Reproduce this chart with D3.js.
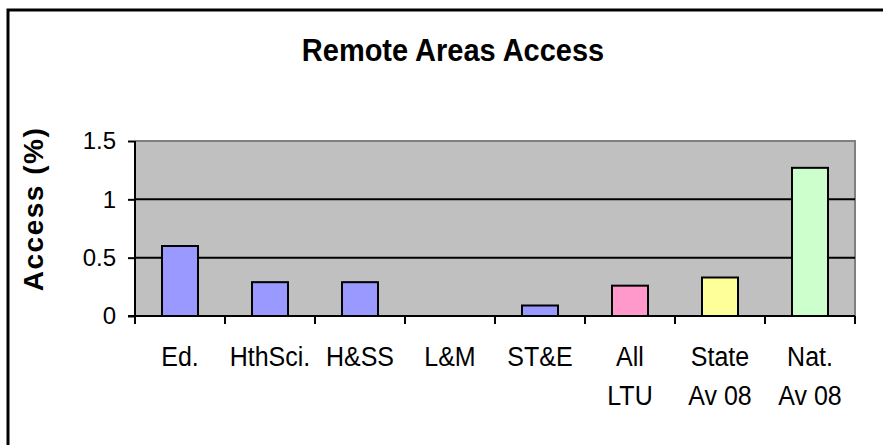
<!DOCTYPE html>
<html>
<head>
<meta charset="utf-8">
<script src="https://cdn.jsdelivr.net/npm/d3@7"></script>
<style>
  body { margin: 0; background: #fff; }
  text { font-family: "Liberation Sans", Arial, sans-serif; fill: #000; }
</style>
</head>
<body>
<svg width="883" height="445"></svg>
<script>
const categories = ['Ed.', 'HthSci.', 'H&SS', 'L&M', 'ST&E', 'All|LTU', 'State|Av 08', 'Nat.|Av 08'];
const values = [0.6, 0.29, 0.29, 0, 0.09, 0.26, 0.33, 1.27];
const barColors = ['#9999ff', '#9999ff', '#9999ff', '#9999ff', '#9999ff', '#ff99cc', '#ffff99', '#ccffcc'];
const yTicks = [0, 0.5, 1, 1.5];

const plot = { left: 135, right: 855, top: 141, bottom: 316 };

const svg = d3.select('svg');

// outer chart frame, runs off the right/bottom edge like the source
svg.append('rect')
    .attr('x', 8).attr('y', 10)
    .attr('width', 900).attr('height', 460)
    .attr('fill', 'none').attr('stroke', '#000').attr('stroke-width', 3);

svg.append('text')
    .attr('transform', 'translate(453,61) scale(1,1.05)')
    .attr('text-anchor', 'middle')
    .style('font-size', '29px').style('font-weight', 'bold')
    .text('Remote Areas Access');

const xScale = d3.scaleBand()
    .domain(categories)
    .range([plot.left, plot.right])
    .paddingInner(0.6).paddingOuter(0.3);

const yScale = d3.scaleLinear().domain([0, 1.5]).range([plot.bottom, plot.top]);

// plot area
svg.append('rect')
    .attr('x', plot.left).attr('y', plot.top)
    .attr('width', plot.right - plot.left).attr('height', plot.bottom - plot.top)
    .attr('fill', '#c0c0c0');
svg.append('path')
    .attr('d', `M${plot.left},${plot.top}H${plot.right}V${plot.bottom}`)
    .attr('fill', 'none').attr('stroke', '#808080').attr('stroke-width', 2);

// gridlines
svg.append('g')
    .selectAll('line')
    .data(yTicks.filter(t => t > 0 && t < 1.5))
    .join('line')
    .attr('x1', plot.left).attr('x2', plot.right)
    .attr('y1', d => yScale(d)).attr('y2', d => yScale(d))
    .attr('stroke', '#000').attr('stroke-width', 2);

svg.append('g')
    .selectAll('rect')
    .data(values)
    .join('rect')
    .attr('x', (d, i) => xScale(categories[i]))
    .attr('y', d => yScale(d))
    .attr('width', xScale.bandwidth())
    .attr('height', d => plot.bottom - yScale(d))
    .attr('fill', (d, i) => barColors[i])
    .attr('stroke', '#000').attr('stroke-width', 2)
    .style('display', d => d > 0 ? null : 'none');

// y axis
const yAxis = svg.append('g')
    .attr('transform', `translate(${plot.left},0)`)
    .call(d3.axisLeft(yScale).tickValues(yTicks).tickFormat(d3.format('')).tickSize(7).tickPadding(12));
yAxis.select('.domain').attr('stroke-width', 2).attr('d', `M0,${plot.top}V${plot.bottom}`);
yAxis.selectAll('.tick line').attr('stroke-width', 2);
yAxis.selectAll('.tick text').style('font-size', '24px').attr('font-family', null);

// x axis: ticks sit on band edges
const edges = categories.map(c => xScale(c) - xScale.step() * 0.3).concat([plot.right]);
const xAxis = svg.append('g')
    .attr('transform', `translate(0,${plot.bottom})`);
xAxis.append('line')
    .attr('x1', plot.left - 7).attr('x2', plot.right)
    .attr('stroke', '#000').attr('stroke-width', 2);
xAxis.selectAll('line.tk')
    .data(edges)
    .join('line').attr('class', 'tk')
    .attr('x1', d => d).attr('x2', d => d)
    .attr('y1', 0).attr('y2', 8)
    .attr('stroke', '#000').attr('stroke-width', 2);

// category labels, slightly tall like the source
const sy = 1.12;
const labels = svg.append('g');
categories.forEach(c => {
    const t = labels.append('text')
        .attr('transform', `translate(${xScale(c) + xScale.bandwidth() / 2},366) scale(1,${sy})`)
        .attr('text-anchor', 'middle')
        .style('font-size', '25px');
    c.split('|').forEach((line, j) => {
        t.append('tspan')
            .attr('x', 0)
            .attr('y', j * 39 / sy)
            .text(line);
    });
});

svg.append('text')
    .attr('transform', `translate(43,209) rotate(-90)`)
    .attr('text-anchor', 'middle')
    .style('font-size', '28px').style('font-weight', 'bold')
    .style('letter-spacing', '1.5px')
    .text('Access (%)');
</script>
</body>
</html>
